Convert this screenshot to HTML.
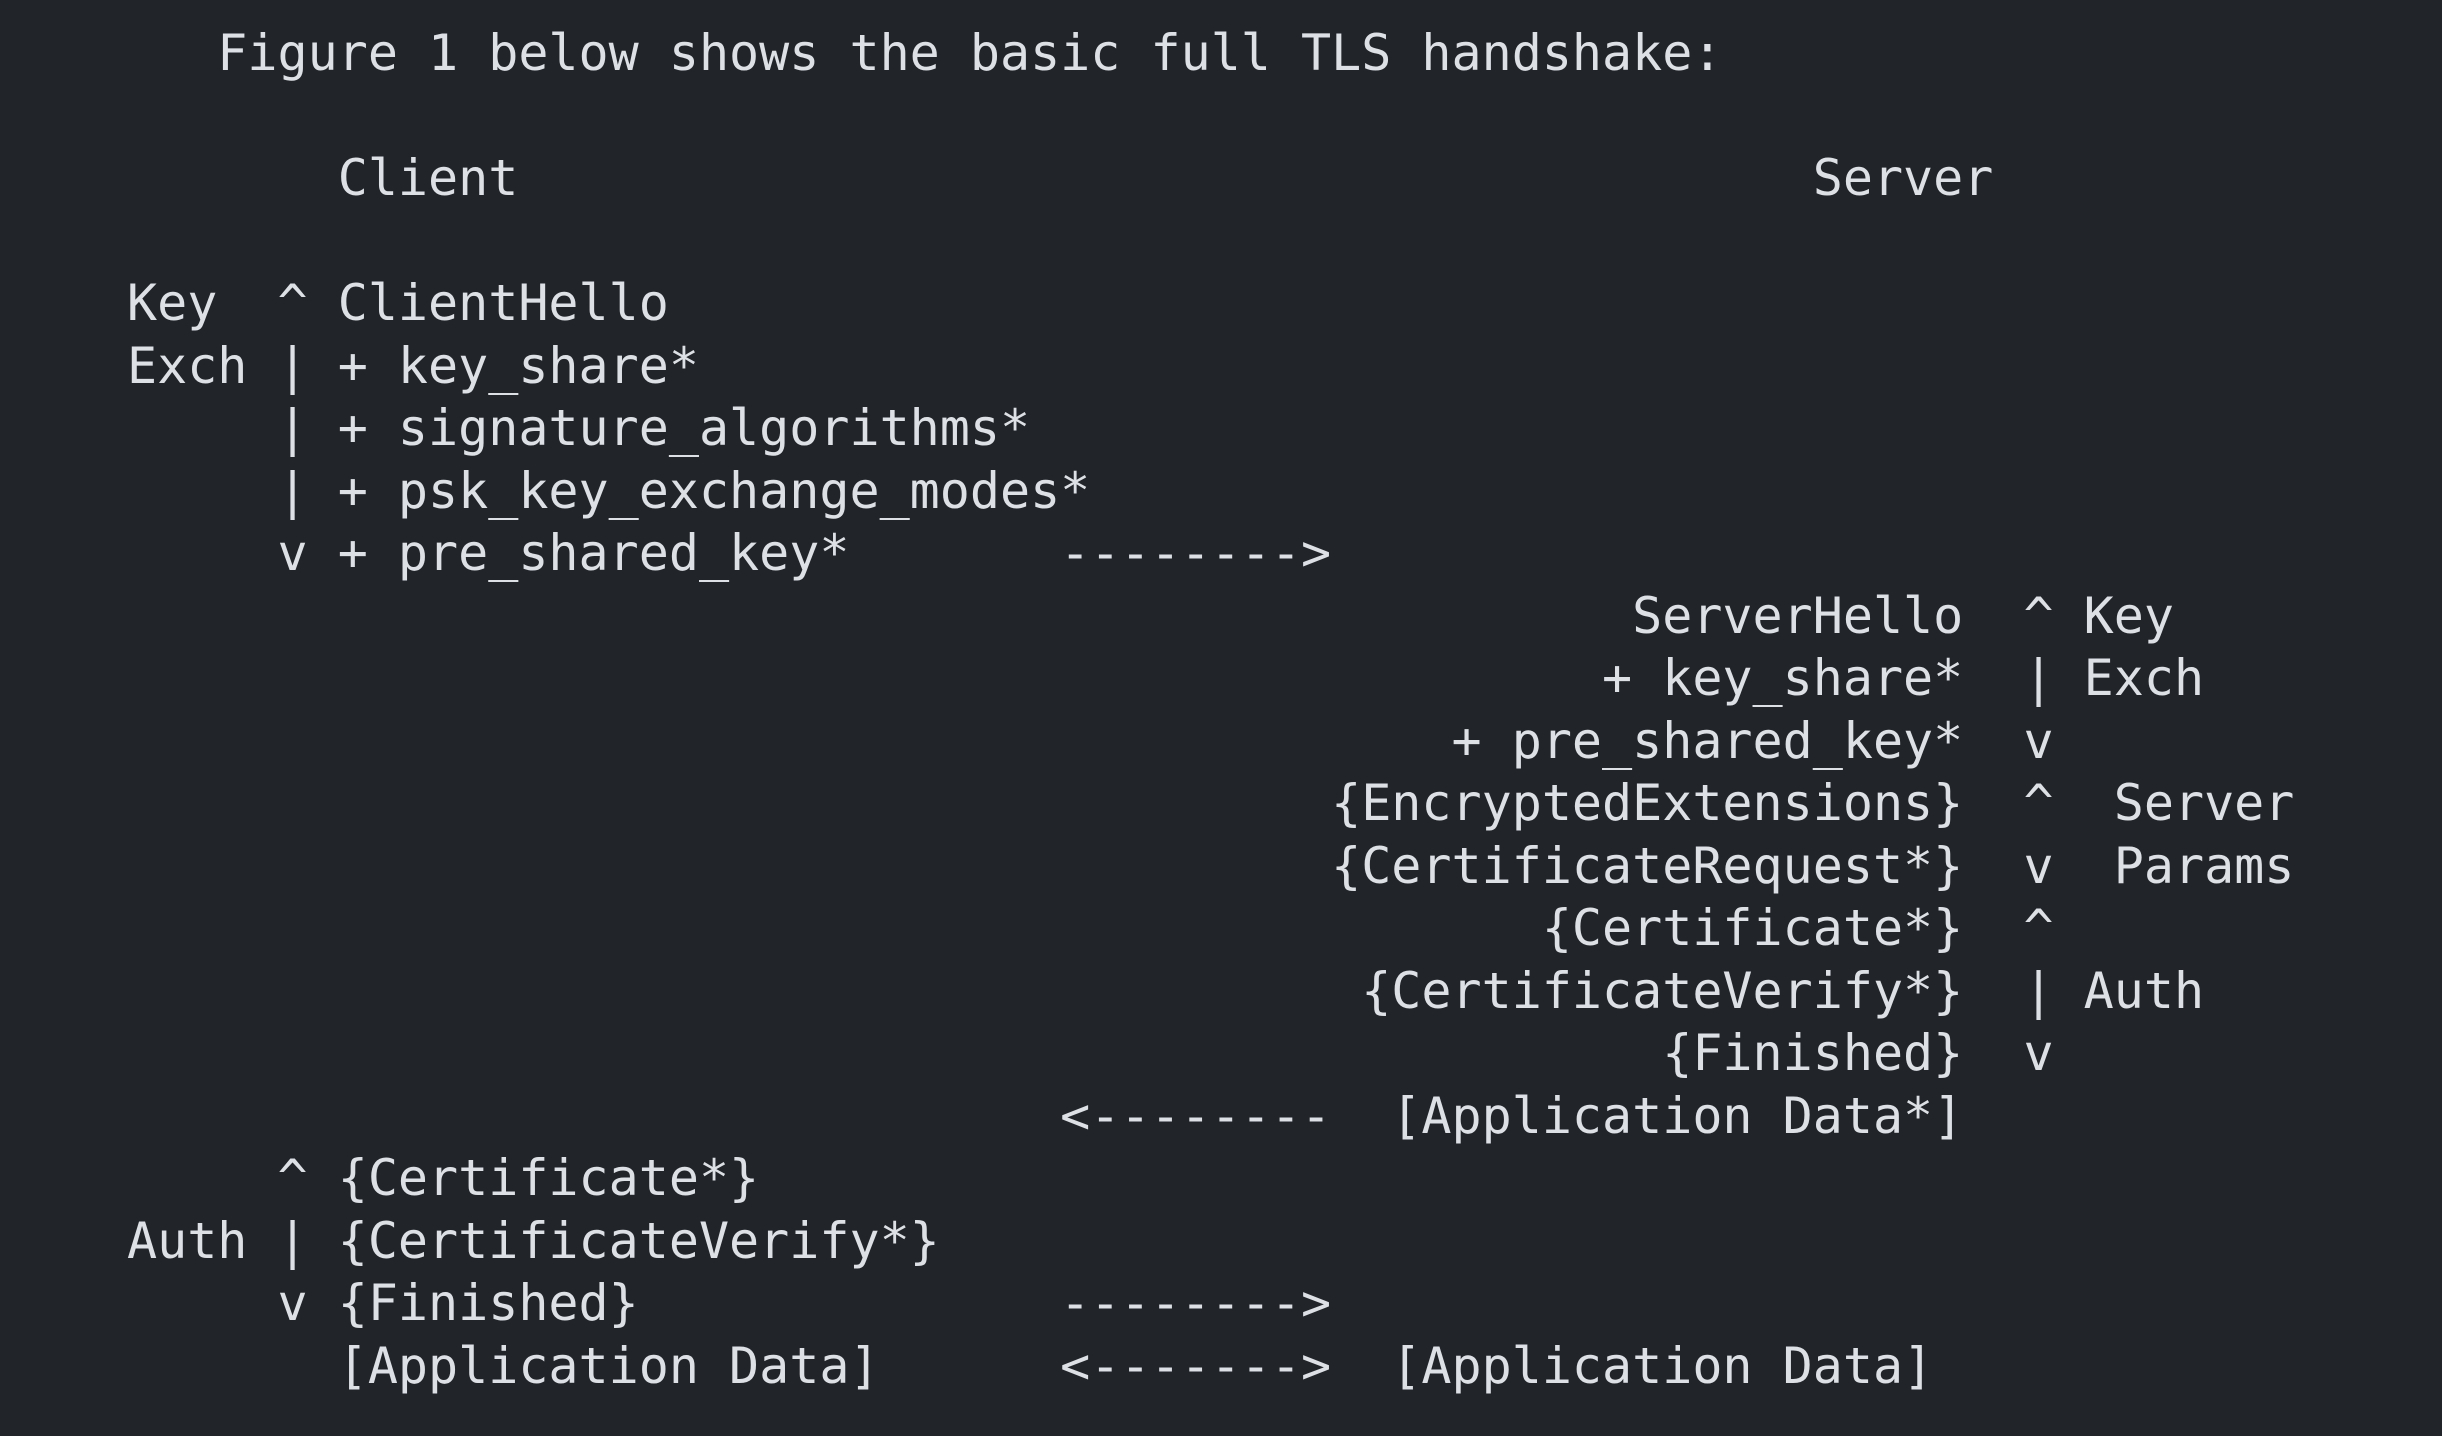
<!DOCTYPE html>
<html><head><meta charset="utf-8"><style>
html,body{margin:0;padding:0;background:#212429;width:2442px;height:1436px;overflow:hidden}
pre{position:absolute;left:127px;top:22px;margin:0;font-family:"DejaVu Sans Mono","Liberation Mono",monospace;font-size:50px;line-height:62.5px;color:#dde1e6;white-space:pre}
</style></head><body><pre>   Figure 1 below shows the basic full TLS handshake:

       Client                                           Server

Key  ^ ClientHello
Exch | + key_share*
     | + signature_algorithms*
     | + psk_key_exchange_modes*
     v + pre_shared_key*       --------&gt;
                                                  ServerHello  ^ Key
                                                 + key_share*  | Exch
                                            + pre_shared_key*  v
                                        {EncryptedExtensions}  ^  Server
                                        {CertificateRequest*}  v  Params
                                               {Certificate*}  ^
                                         {CertificateVerify*}  | Auth
                                                   {Finished}  v
                               &lt;--------  [Application Data*]
     ^ {Certificate*}
Auth | {CertificateVerify*}
     v {Finished}              --------&gt;
       [Application Data]      &lt;-------&gt;  [Application Data]</pre></body></html>
